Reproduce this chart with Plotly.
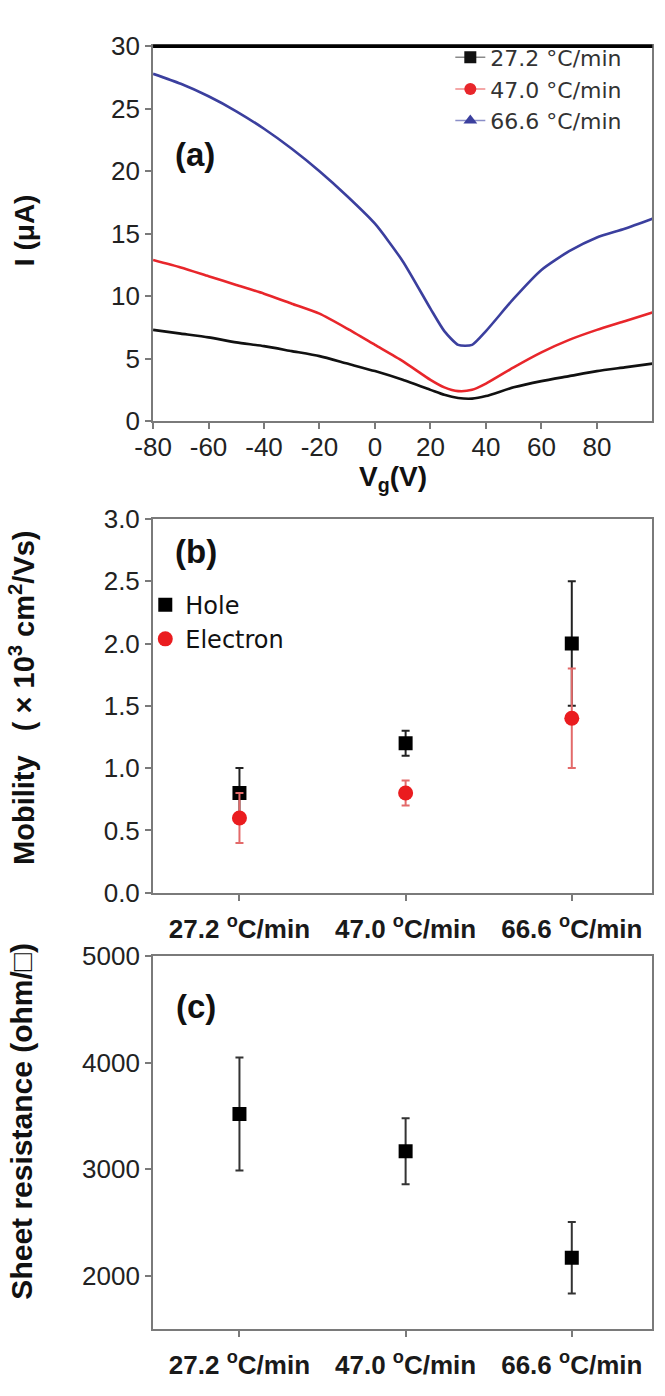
import plotly.graph_objects as go

# ---------------- data ----------------
vg = [-80, -70, -60, -50, -40, -30, -20, -10, 0, 10, 20, 25, 30, 35, 40, 50, 60, 70, 80, 90, 100]
i_272 = [7.3, 7.0, 6.7, 6.3, 6.0, 5.6, 5.2, 4.6, 4.0, 3.3, 2.5, 2.1, 1.85, 1.8, 2.0, 2.7, 3.2, 3.6, 4.0, 4.3, 4.6]
i_470 = [12.9, 12.3, 11.6, 10.9, 10.2, 9.4, 8.6, 7.4, 6.1, 4.8, 3.3, 2.7, 2.4, 2.5, 3.0, 4.3, 5.5, 6.5, 7.3, 8.0, 8.7]
i_666 = [27.8, 27.0, 26.0, 24.8, 23.4, 21.8, 20.0, 18.0, 15.8, 12.8, 9.0, 7.2, 6.1, 6.1, 7.2, 9.8, 12.1, 13.6, 14.7, 15.4, 16.2]
series_names = ["27.2 °C/min", "47.0 °C/min", "66.6 °C/min"]
vg_ticks = [-80, -60, -40, -20, 0, 20, 40, 60, 80]
vg_ticktext = ["-80", "-60", "-40", "-20", "0", "20", "40", "60", "80"]
i_ticks = [0, 5, 10, 15, 20, 25, 30]

cat_labels = ["<b>27.2 <sup>o</sup>C/min</b>", "<b>47.0 <sup>o</sup>C/min</b>", "<b>66.6 <sup>o</sup>C/min</b>"]
cat_pos = [0, 1, 2]
hole = [0.8, 1.2, 2.0]
hole_err = [0.2, 0.1, 0.5]
electron = [0.6, 0.8, 1.4]
electron_err = [0.2, 0.1, 0.4]
mob_ticks = [0, 0.5, 1.0, 1.5, 2.0, 2.5, 3.0]

sheet_res = [3520, 3170, 2170]
sheet_err = [530, 310, 335]
rs_ticks = [2000, 3000, 4000, 5000]

# ---------------- layout helpers ----------------
W, H = 665, 1396
def px(x):
    return x / W
def py(y):
    return 1 - y / H

XDOM = [px(138), px(652)]
DOM_A = [py(415), py(32)]
DOM_B = [py(897), py(515)]
DOM_C = [py(1343), py(962)]

TICKFONT = dict(family="Liberation Sans, Arial, sans-serif", size=26, color="#222")
BOLD = "Liberation Sans, Arial, sans-serif"
FRAME = "#7a7a7a"

fig = go.Figure()

# ---- panel (a) curves ----
cols_line = ["#111111", "#e8262b", "#3b3f9e"]
for ys, c in zip([i_272, i_470, i_666], cols_line):
    fig.add_trace(go.Scatter(x=vg, y=ys, mode="lines", line=dict(color=c, width=2.6, shape="spline", smoothing=0.6),
                             showlegend=False, xaxis="x", yaxis="y"))
# legend entries for (a)
leg_line = ["#8a8a8a", "#f08a8a", "#8a8ec8"]
leg_sym = ["square", "circle", "triangle-up"]
for name, c, lc, s in zip(series_names, cols_line, leg_line, leg_sym):
    fig.add_trace(go.Scatter(x=[None], y=[None], mode="lines+markers", name=name,
                             line=dict(color=lc, width=1.5), marker=dict(symbol=s, color=c, size=12),
                             xaxis="x", yaxis="y", legend="legend"))

# ---- panel (b) ----
fig.add_trace(go.Scatter(x=cat_pos, y=hole, mode="markers", name="Hole",
                         marker=dict(symbol="square", color="black", size=14),
                         error_y=dict(type="data", array=hole_err, color="#222", thickness=2, width=4),
                         xaxis="x2", yaxis="y2", legend="legend2"))
fig.add_trace(go.Scatter(x=cat_pos, y=electron, mode="markers", name="Electron",
                         marker=dict(symbol="circle", color="#ea1c1f", size=15),
                         error_y=dict(type="data", array=electron_err, color="#e36a6a", thickness=2, width=4),
                         xaxis="x2", yaxis="y2", legend="legend2"))

# ---- panel (c) ----
fig.add_trace(go.Scatter(x=cat_pos, y=sheet_res, mode="markers", showlegend=False,
                         marker=dict(symbol="square", color="black", size=14),
                         error_y=dict(type="data", array=sheet_err, color="#333", thickness=2, width=4),
                         xaxis="x3", yaxis="y3"))

axis_common = dict(showline=True, linecolor=FRAME, linewidth=2, mirror=True, ticks="outside",
                   ticklen=6, tickwidth=2, tickcolor=FRAME, showgrid=False, zeroline=False,
                   tickfont=TICKFONT)

cat_axis = dict(axis_common, tickmode="array", tickvals=cat_pos, ticktext=cat_labels,
                range=[-0.52, 2.485], tickfont=dict(family=BOLD, size=26, color="#1a1a1a"),
                ticklabelstandoff=6)

fig.update_layout(
    width=W, height=H, margin=dict(l=0, r=0, t=0, b=0),
    paper_bgcolor="white", plot_bgcolor="white",
    xaxis=dict(axis_common, domain=XDOM, anchor="y", range=[-80, 100],
               tickmode="array", tickvals=vg_ticks, ticktext=vg_ticktext, ticklabelstandoff=-4),
    yaxis=dict(axis_common, domain=DOM_A, anchor="x", range=[0, 30], tickmode="array", tickvals=i_ticks),
    xaxis2=dict(cat_axis, domain=XDOM, anchor="y2"),
    yaxis2=dict(axis_common, domain=DOM_B, anchor="x2", range=[0, 3.0],
                tickmode="array", tickvals=mob_ticks, tickformat=".1f"),
    xaxis3=dict(cat_axis, domain=XDOM, anchor="y3"),
    yaxis3=dict(axis_common, domain=DOM_C, anchor="x3", range=[1500, 5000],
                tickmode="array", tickvals=rs_ticks),
    legend=dict(x=px(444), y=py(22), xanchor="left", yanchor="top", bgcolor="rgba(0,0,0,0)",
                font=dict(family="DejaVu Sans", size=22, color="#333")),
    legend2=dict(x=px(130), y=py(580), xanchor="left", yanchor="top", bgcolor="rgba(0,0,0,0)",
                 font=dict(family="DejaVu Sans", size=24, color="#111")),
    shapes=[dict(type="line", xref="x domain", yref="y domain", x0=0, x1=1, y0=1, y1=1,
                 line=dict(color="black", width=3.5))],
)

ann = []
def add_text(text, x, y, size, angle=0, family=BOLD):
    ann.append(dict(text=text, x=px(x), y=py(y), xref="paper", yref="paper", showarrow=False,
                    xanchor="center", yanchor="middle", textangle=angle,
                    font=dict(family=family, size=size, color="#111")))

add_text("<b>(a)</b>", 181, 143, 33)
add_text("<b>(b)</b>", 182, 548, 33)
add_text("<b>(c)</b>", 182, 1013, 33)
add_text("<b>V<sub>g</sub>(V)</b>", 385, 474, 28)
add_text("<b>I (μA)</b>", 5, 220, 28, -90)
add_text("<b>Mobility   ( × 10<sup>3</sup> cm<sup>2</sup>/Vs)</b>", 3, 698, 29, -90)
add_text("<b>Sheet resistance (ohm/□)</b>", 3, 1130, 30, -90)
fig.update_layout(annotations=ann)

fig.write_html("out.html")
